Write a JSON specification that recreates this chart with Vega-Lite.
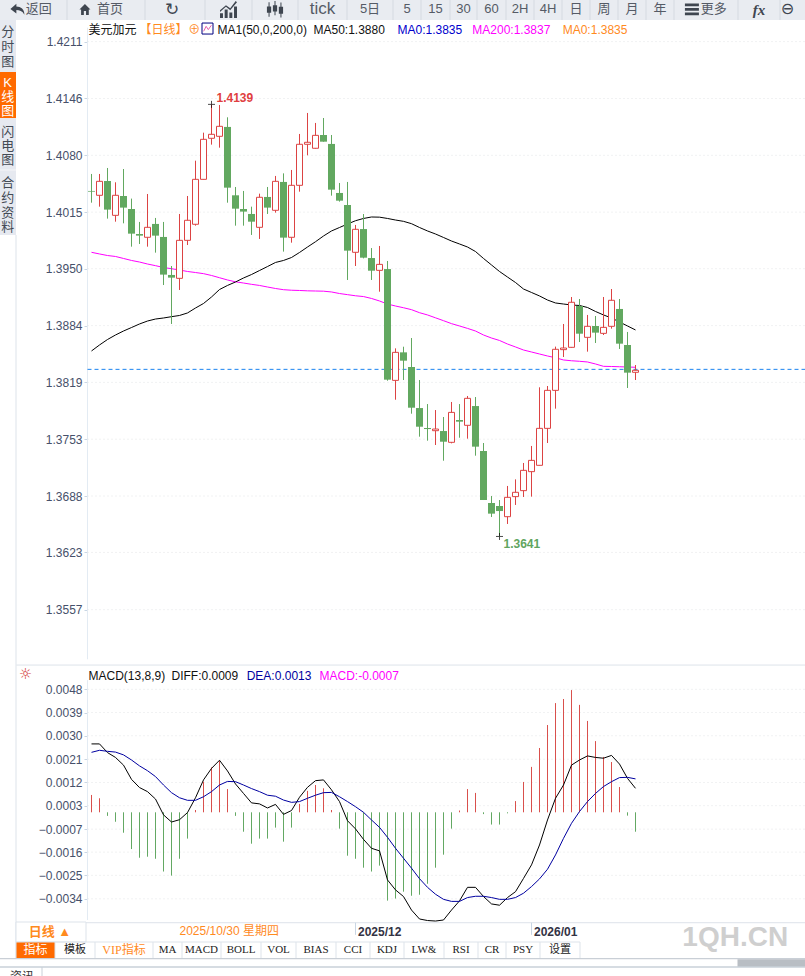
{
"$schema":"https://vega.github.io/schema/vega-lite/v6.json",
"width":805,"height":976,"padding":0,"autosize":{"type":"none"},"background":"white",
"config":{"view":{"stroke":null},"text":{"font":"Liberation Sans, Noto Sans CJK SC"}},
"datasets":{
"bars":[
{"bar":0,"date":"2025-10-15","open":1.40392,"high":1.40588,"low":1.40257,"close":1.40384,"ma50":1.38548,"ma200":1.39685,"diff":0.00268,"dea":0.00235,"macd":0.00068},
{"bar":1,"date":"2025-10-16","open":1.40342,"high":1.40588,"low":1.40211,"close":1.40503,"ma50":1.38617,"ma200":1.39666,"diff":0.00268,"dea":0.00243,"macd":0.00055},
{"bar":2,"date":"2025-10-17","open":1.40507,"high":1.40657,"low":1.40073,"close":1.40177,"ma50":1.3868,"ma200":1.39648,"diff":0.00234,"dea":0.00239,"macd":-0.00014},
{"bar":3,"date":"2025-10-20","open":1.40111,"high":1.40492,"low":1.40038,"close":1.40342,"ma50":1.38732,"ma200":1.39637,"diff":0.00215,"dea":0.00236,"macd":-0.00037},
{"bar":4,"date":"2025-10-21","open":1.40334,"high":1.40645,"low":1.40019,"close":1.402,"ma50":1.38778,"ma200":1.39614,"diff":0.00185,"dea":0.00225,"macd":-0.0008},
{"bar":5,"date":"2025-10-22","open":1.40184,"high":1.40304,"low":1.3975,"close":1.399,"ma50":1.38818,"ma200":1.39591,"diff":0.00129,"dea":0.00205,"macd":-0.00144},
{"bar":6,"date":"2025-10-23","open":1.39896,"high":1.40035,"low":1.39781,"close":1.39877,"ma50":1.38859,"ma200":1.39573,"diff":0.00097,"dea":0.00182,"macd":-0.00178},
{"bar":7,"date":"2025-10-24","open":1.39858,"high":1.40357,"low":1.3975,"close":1.39973,"ma50":1.38893,"ma200":1.3955,"diff":0.00081,"dea":0.00163,"macd":-0.00174},
{"bar":8,"date":"2025-10-27","open":1.40012,"high":1.40081,"low":1.39681,"close":1.39877,"ma50":1.38916,"ma200":1.39531,"diff":0.00052,"dea":0.0014,"macd":-0.00182},
{"bar":9,"date":"2025-10-28","open":1.39862,"high":1.40035,"low":1.39308,"close":1.39428,"ma50":1.38928,"ma200":1.3951,"diff":-0.0001,"dea":0.00107,"macd":-0.00232},
{"bar":10,"date":"2025-10-29","open":1.39424,"high":1.39527,"low":1.38859,"close":1.39393,"ma50":1.38943,"ma200":1.39496,"diff":-0.00038,"dea":0.00077,"macd":-0.00248},
{"bar":11,"date":"2025-10-30","open":1.39385,"high":1.40127,"low":1.39251,"close":1.39823,"ma50":1.38957,"ma200":1.39481,"diff":-0.00029,"dea":0.00057,"macd":-0.00182},
{"bar":12,"date":"2025-10-31","open":1.39823,"high":1.40334,"low":1.39769,"close":1.40054,"ma50":1.38986,"ma200":1.39464,"diff":-0.00001,"dea":0.00047,"macd":-0.00103},
{"bar":13,"date":"2025-11-03","open":1.40008,"high":1.40741,"low":1.39992,"close":1.40526,"ma50":1.39043,"ma200":1.39452,"diff":0.00057,"dea":0.00047,"macd":0.00009},
{"bar":14,"date":"2025-11-04","open":1.40526,"high":1.41064,"low":1.40526,"close":1.40987,"ma50":1.39095,"ma200":1.39439,"diff":0.00127,"dea":0.00061,"macd":0.0012},
{"bar":15,"date":"2025-11-05","open":1.40999,"high":1.4139,"low":1.40926,"close":1.41045,"ma50":1.3917,"ma200":1.39418,"diff":0.00172,"dea":0.00081,"macd":0.00176},
{"bar":16,"date":"2025-11-06","open":1.41022,"high":1.41383,"low":1.40891,"close":1.41137,"ma50":1.39256,"ma200":1.39392,"diff":0.00204,"dea":0.00107,"macd":0.00201},
{"bar":17,"date":"2025-11-07","open":1.4113,"high":1.41241,"low":1.40257,"close":1.4043,"ma50":1.39303,"ma200":1.39366,"diff":0.00162,"dea":0.00121,"macd":0.00091},
{"bar":18,"date":"2025-11-10","open":1.40342,"high":1.40438,"low":1.39992,"close":1.40188,"ma50":1.39343,"ma200":1.39345,"diff":0.00111,"dea":0.0012,"macd":-0.00014},
{"bar":19,"date":"2025-11-11","open":1.40184,"high":1.40392,"low":1.39992,"close":1.40154,"ma50":1.39389,"ma200":1.39331,"diff":0.00074,"dea":0.00107,"macd":-0.00076},
{"bar":20,"date":"2025-11-12","open":1.40127,"high":1.40211,"low":1.39885,"close":1.40038,"ma50":1.39429,"ma200":1.39316,"diff":0.00037,"dea":0.00093,"macd":-0.00123},
{"bar":21,"date":"2025-11-13","open":1.39973,"high":1.40361,"low":1.39839,"close":1.40319,"ma50":1.39475,"ma200":1.39303,"diff":0.00033,"dea":0.00081,"macd":-0.00103},
{"bar":22,"date":"2025-11-14","open":1.40323,"high":1.40438,"low":1.40127,"close":1.402,"ma50":1.39521,"ma200":1.39285,"diff":0.00017,"dea":0.00067,"macd":-0.00103},
{"bar":23,"date":"2025-11-17","open":1.40169,"high":1.40565,"low":1.40142,"close":1.40503,"ma50":1.39568,"ma200":1.39268,"diff":0.00031,"dea":0.00063,"macd":-0.0006},
{"bar":24,"date":"2025-11-18","open":1.40496,"high":1.40595,"low":1.39693,"close":1.39854,"ma50":1.39591,"ma200":1.39254,"diff":-0.00008,"dea":0.00048,"macd":-0.00115},
{"bar":25,"date":"2025-11-19","open":1.39858,"high":1.40634,"low":1.39796,"close":1.40457,"ma50":1.39625,"ma200":1.39248,"diff":0.00007,"dea":0.00039,"macd":-0.0006},
{"bar":26,"date":"2025-11-20","open":1.40457,"high":1.41049,"low":1.40384,"close":1.4093,"ma50":1.39683,"ma200":1.39245,"diff":0.00059,"dea":0.00042,"macd":0.00033},
{"bar":27,"date":"2025-11-21","open":1.4093,"high":1.41291,"low":1.40803,"close":1.40953,"ma50":1.39746,"ma200":1.39241,"diff":0.00098,"dea":0.00055,"macd":0.00084},
{"bar":28,"date":"2025-11-24","open":1.40884,"high":1.41176,"low":1.4088,"close":1.41033,"ma50":1.39807,"ma200":1.39239,"diff":0.00124,"dea":0.00067,"macd":0.00107},
{"bar":29,"date":"2025-11-25","open":1.41037,"high":1.41233,"low":1.4096,"close":1.4096,"ma50":1.39873,"ma200":1.39237,"diff":0.00127,"dea":0.00077,"macd":0.00094},
{"bar":30,"date":"2025-11-26","open":1.40934,"high":1.41037,"low":1.40338,"close":1.40407,"ma50":1.39931,"ma200":1.39228,"diff":0.00088,"dea":0.00078,"macd":0.00009},
{"bar":31,"date":"2025-11-27","open":1.40369,"high":1.40484,"low":1.40269,"close":1.4028,"ma50":1.39971,"ma200":1.3921,"diff":0.00042,"dea":0.00061,"macd":-0.00064},
{"bar":32,"date":"2025-11-28","open":1.4023,"high":1.40496,"low":1.39366,"close":1.39704,"ma50":1.40011,"ma200":1.39197,"diff":-0.00033,"dea":0.00042,"macd":-0.0017},
{"bar":33,"date":"2025-12-01","open":1.39685,"high":1.4,"low":1.39527,"close":1.3995,"ma50":1.40049,"ma200":1.39184,"diff":-0.00065,"dea":0.00022,"macd":-0.00182},
{"bar":34,"date":"2025-12-02","open":1.39953,"high":1.40126,"low":1.39615,"close":1.39623,"ma50":1.40075,"ma200":1.39175,"diff":-0.00106,"dea":0,"macd":-0.00217},
{"bar":35,"date":"2025-12-03","open":1.39619,"high":1.39734,"low":1.39366,"close":1.39473,"ma50":1.40092,"ma200":1.39153,"diff":-0.00141,"dea":-0.0003,"macd":-0.00232},
{"bar":36,"date":"2025-12-04","open":1.39477,"high":1.39758,"low":1.39231,"close":1.39546,"ma50":1.4009,"ma200":1.39124,"diff":-0.00151,"dea":-0.00059,"macd":-0.00209},
{"bar":37,"date":"2025-12-05","open":1.39492,"high":1.39585,"low":1.38205,"close":1.38217,"ma50":1.40075,"ma200":1.39089,"diff":-0.00265,"dea":-0.00098,"macd":-0.00346},
{"bar":38,"date":"2025-12-08","open":1.38209,"high":1.38578,"low":1.37986,"close":1.38532,"ma50":1.40057,"ma200":1.39066,"diff":-0.00304,"dea":-0.00141,"macd":-0.00338},
{"bar":39,"date":"2025-12-09","open":1.38532,"high":1.38597,"low":1.38213,"close":1.38436,"ma50":1.40042,"ma200":1.39046,"diff":-0.0033,"dea":-0.0018,"macd":-0.00311},
{"bar":40,"date":"2025-12-10","open":1.38363,"high":1.38697,"low":1.37825,"close":1.37894,"ma50":1.40015,"ma200":1.39024,"diff":-0.00383,"dea":-0.00219,"macd":-0.00327},
{"bar":41,"date":"2025-12-11","open":1.3789,"high":1.38213,"low":1.3756,"close":1.37675,"ma50":1.39971,"ma200":1.38989,"diff":-0.00418,"dea":-0.0026,"macd":-0.00323},
{"bar":42,"date":"2025-12-12","open":1.3766,"high":1.37936,"low":1.37514,"close":1.37648,"ma50":1.39931,"ma200":1.38963,"diff":-0.00424,"dea":-0.00294,"macd":-0.0028},
{"bar":43,"date":"2025-12-15","open":1.37629,"high":1.37867,"low":1.37464,"close":1.37648,"ma50":1.39896,"ma200":1.3893,"diff":-0.00426,"dea":-0.00321,"macd":-0.00217},
{"bar":44,"date":"2025-12-16","open":1.37625,"high":1.37787,"low":1.37283,"close":1.37502,"ma50":1.39856,"ma200":1.38897,"diff":-0.00422,"dea":-0.00341,"macd":-0.00166},
{"bar":45,"date":"2025-12-17","open":1.37495,"high":1.3796,"low":1.37483,"close":1.3784,"ma50":1.39815,"ma200":1.38863,"diff":-0.00383,"dea":-0.00349,"macd":-0.00064},
{"bar":46,"date":"2025-12-18","open":1.37752,"high":1.37936,"low":1.37548,"close":1.37733,"ma50":1.39781,"ma200":1.38836,"diff":-0.00347,"dea":-0.00349,"macd":0.00007},
{"bar":47,"date":"2025-12-19","open":1.37691,"high":1.38029,"low":1.37537,"close":1.38002,"ma50":1.39746,"ma200":1.38808,"diff":-0.00294,"dea":-0.00334,"macd":0.00091},
{"bar":48,"date":"2025-12-22","open":1.37913,"high":1.38017,"low":1.37341,"close":1.37445,"ma50":1.39694,"ma200":1.38778,"diff":-0.00294,"dea":-0.00329,"macd":0.00076},
{"bar":49,"date":"2025-12-23","open":1.37395,"high":1.37487,"low":1.3683,"close":1.3683,"ma50":1.39614,"ma200":1.38732,"diff":-0.0033,"dea":-0.00329,"macd":-0.00007},
{"bar":50,"date":"2025-12-24","open":1.36796,"high":1.36876,"low":1.36634,"close":1.36673,"ma50":1.39539,"ma200":1.38697,"diff":-0.00359,"dea":-0.00334,"macd":-0.00048},
{"bar":51,"date":"2025-12-26","open":1.36761,"high":1.3683,"low":1.3641,"close":1.36703,"ma50":1.39464,"ma200":1.38669,"diff":-0.00364,"dea":-0.00341,"macd":-0.00048},
{"bar":52,"date":"2025-12-29","open":1.36638,"high":1.36992,"low":1.36554,"close":1.36861,"ma50":1.394,"ma200":1.38628,"diff":-0.00334,"dea":-0.00341,"macd":-0.00004},
{"bar":53,"date":"2025-12-30","open":1.36869,"high":1.37068,"low":1.36773,"close":1.36919,"ma50":1.39337,"ma200":1.38594,"diff":-0.00311,"dea":-0.00334,"macd":0.00044},
{"bar":54,"date":"2025-12-31","open":1.36938,"high":1.37257,"low":1.36865,"close":1.37172,"ma50":1.39262,"ma200":1.38559,"diff":-0.00259,"dea":-0.00317,"macd":0.00119},
{"bar":55,"date":"2026-01-01","open":1.37157,"high":1.37453,"low":1.36869,"close":1.37287,"ma50":1.39222,"ma200":1.38536,"diff":-0.00206,"dea":-0.00291,"macd":0.00178},
{"bar":56,"date":"2026-01-02","open":1.3723,"high":1.38129,"low":1.3723,"close":1.37656,"ma50":1.39182,"ma200":1.38513,"diff":-0.00128,"dea":-0.00261,"macd":0.00252},
{"bar":57,"date":"2026-01-05","open":1.37656,"high":1.38144,"low":1.37487,"close":1.38094,"ma50":1.39135,"ma200":1.3849,"diff":-0.0003,"dea":-0.00223,"macd":0.00342},
{"bar":58,"date":"2026-01-06","open":1.38094,"high":1.38598,"low":1.37883,"close":1.38567,"ma50":1.39101,"ma200":1.3847,"diff":0.00055,"dea":-0.00167,"macd":0.00428},
{"bar":59,"date":"2026-01-07","open":1.38563,"high":1.38859,"low":1.38478,"close":1.38582,"ma50":1.39089,"ma200":1.38444,"diff":0.00107,"dea":-0.00102,"macd":0.00444},
{"bar":60,"date":"2026-01-08","open":1.3859,"high":1.3917,"low":1.38586,"close":1.39109,"ma50":1.39078,"ma200":1.38435,"diff":0.00185,"dea":-0.00043,"macd":0.00479},
{"bar":61,"date":"2026-01-09","open":1.39066,"high":1.39147,"low":1.38651,"close":1.38747,"ma50":1.39072,"ma200":1.38429,"diff":0.00205,"dea":0.00003,"macd":0.00421},
{"bar":62,"date":"2026-01-12","open":1.38705,"high":1.38963,"low":1.3854,"close":1.38832,"ma50":1.39049,"ma200":1.38421,"diff":0.00221,"dea":0.00042,"macd":0.00358},
{"bar":63,"date":"2026-01-13","open":1.38836,"high":1.38951,"low":1.3864,"close":1.38759,"ma50":1.39003,"ma200":1.38398,"diff":0.00215,"dea":0.00074,"macd":0.00279},
{"bar":64,"date":"2026-01-14","open":1.38751,"high":1.3917,"low":1.38732,"close":1.3882,"ma50":1.38963,"ma200":1.38371,"diff":0.00212,"dea":0.00101,"macd":0.00217},
{"bar":65,"date":"2026-01-15","open":1.38832,"high":1.39262,"low":1.38805,"close":1.39132,"ma50":1.38928,"ma200":1.38369,"diff":0.00223,"dea":0.0012,"macd":0.00197},
{"bar":66,"date":"2026-01-16","open":1.39032,"high":1.39147,"low":1.38571,"close":1.38632,"ma50":1.38882,"ma200":1.38366,"diff":0.00189,"dea":0.00136,"macd":0.00099},
{"bar":67,"date":"2026-01-19","open":1.38617,"high":1.38767,"low":1.38121,"close":1.38298,"ma50":1.38836,"ma200":1.38363,"diff":0.00133,"dea":0.00137,"macd":-0.00013},
{"bar":68,"date":"2026-01-20","open":1.38302,"high":1.38386,"low":1.38213,"close":1.38325,"ma50":1.3879,"ma200":1.3836,"diff":0.00094,"dea":0.00131,"macd":-0.00076}
],
"priceTicks":[{"tick":1.42113},{"tick":1.41458},{"tick":1.40803},{"tick":1.40148},{"tick":1.39496},{"tick":1.3884},{"tick":1.38186},{"tick":1.37531},{"tick":1.36876},{"tick":1.36226},{"tick":1.35566}],
"macdTicks":[{"tick":0.00482},{"tick":0.00391},{"tick":0.003},{"tick":0.00208},{"tick":0.00117},{"tick":0.00026},{"tick":-0.00066},{"tick":-0.00156},{"tick":-0.00247},{"tick":-0.00339}],
"priceNotes":[
{"text":"美元加元","bar":-0.375,"value":1.42247,"tone":"plain"},
{"text":"【日线】","bar":6,"value":1.42247,"tone":"orange"},
{"text":"⊕","bar":12.1,"value":1.42247,"tone":"orange"},
{"text":"MA1(50,0,200,0)","bar":15.75,"value":1.42247,"tone":"plain"},
{"text":"MA50:1.3880","bar":27.75,"value":1.42247,"tone":"plain"},
{"text":"MA0:1.3835","bar":38.25,"value":1.42247,"tone":"blue"},
{"text":"MA200:1.3837","bar":47.6,"value":1.42247,"tone":"magenta"},
{"text":"MA0:1.3835","bar":58.9,"value":1.42247,"tone":"orange"}
],
"priceExtremes":[
{"text":"1.4139","bar":15,"value":1.4139,"tone":"red"},
{"text":"1.3641","bar":51,"value":1.3641,"tone":"green"}
],
"macdNotes":[
{"text":"MACD(13,8,9)","bar":-0.375,"value":0.00534,"tone":"plain"},
{"text":"DIFF:0.0009","bar":10,"value":0.00534,"tone":"plain"},
{"text":"DEA:0.0013","bar":19.4,"value":0.00534,"tone":"navy"},
{"text":"MACD:-0.0007","bar":28.5,"value":0.00534,"tone":"magenta"},
{"text":"2025/10/30 星期四","bar":11,"value":-0.00465,"tone":"orange"}
],
"toolEdges":[{"edge":1},{"edge":2},{"edge":3},{"edge":4},{"edge":5},{"edge":6},{"edge":7},{"edge":8},{"edge":9},{"edge":10},{"edge":11},{"edge":12},{"edge":13},{"edge":14},{"edge":15},{"edge":16},{"edge":17},{"edge":18},{"edge":19}],
"toolText":[{"label":"返回","cell":0.58},{"label":"首页","cell":1.55},{"label":"5日","cell":6.5},{"label":"5","cell":7.5},{"label":"15","cell":8.5},{"label":"30","cell":9.5},{"label":"60","cell":10.5},{"label":"2H","cell":11.5},{"label":"4H","cell":12.5},{"label":"日","cell":13.5},{"label":"周","cell":14.5},{"label":"月","cell":15.5},{"label":"年","cell":16.5},{"label":"更多","cell":17.62}],
"sideChars":[{"char":"分","row":0.24},{"char":"时","row":0.52},{"char":"图","row":0.8},{"char":"闪","row":2.27},{"char":"电","row":2.54},{"char":"图","row":2.81},{"char":"合","row":3.2},{"char":"约","row":3.43},{"char":"资","row":3.66},{"char":"料","row":3.88}],
"sideActive":[{"char":"K","row":1.24},{"char":"线","row":1.54},{"char":"图","row":1.85}],
"tabEdges":[{"edge":0},{"edge":1},{"edge":2},{"edge":3},{"edge":4},{"edge":5},{"edge":6},{"edge":7},{"edge":8},{"edge":9},{"edge":10},{"edge":11},{"edge":12},{"edge":13},{"edge":14},{"edge":15}],
"tabs":[{"label":"模板","cell":1.5},{"label":"MA","cell":3.5},{"label":"MACD","cell":4.5},{"label":"BOLL","cell":5.5},{"label":"VOL","cell":6.5},{"label":"BIAS","cell":7.5},{"label":"CCI","cell":8.5},{"label":"KDJ","cell":9.5},{"label":"LW&","cell":10.5},{"label":"RSI","cell":11.5},{"label":"CR","cell":12.5},{"label":"PSY","cell":13.5},{"label":"设置","cell":14.5}]
},
"layer":[
{"data":{"name":"priceTicks"},"mark":{"type":"rule","color":"#E2E4E6","strokeDash":[1,3],"strokeWidth":1},
"encoding":{"x":{"datum":-0.5,"axis":null,"scale":{"domain":[-0.5,89.25],"range":[87.5,805.5],"padding":0,"nice":false,"zero":false}},"x2":{"datum":89.25},
"y":{"field":"tick","type":"quantitative","title":null,
"scale":{"domain":[1.35,1.4228],"range":[658.8,27.15],"nice":false,"zero":false},
"axis":{"orient":"left","offset":-87,"values":[1.42113,1.41458,1.40803,1.40148,1.39496,1.3884,1.38186,1.37531,1.36876,1.36226,1.35566],"format":".4f","grid":false,"domainColor":"#E3EBF3","tickColor":"#C9D6E4","tickSize":3,"labelPadding":2,"labelFont":"Liberation Sans","labelFontSize":12,"labelColor":"#46506A","title":null}}}},
{"data":{"name":"macdTicks"},"mark":{"type":"rule","color":"#E2E4E6","strokeDash":[1,3],"strokeWidth":1},
"encoding":{"x":{"datum":-0.5,"axis":null,"scale":{"domain":[-0.5,89.25],"range":[87.5,805.5],"padding":0,"nice":false,"zero":false}},"x2":{"datum":89.25},
"y":{"field":"tick","type":"quantitative","title":null,
"scale":{"domain":[-0.0042,0.0052],"range":[919.5,679.6],"nice":false,"zero":false},
"axis":{"orient":"left","offset":-87,"values":[0.00482,0.00391,0.003,0.00208,0.00117,0.00026,-0.00066,-0.00156,-0.00247,-0.00339],"format":".4f","grid":false,"domainColor":"#E3EBF3","tickColor":"#C9D6E4","tickSize":3,"labelPadding":2,"labelFont":"Liberation Sans","labelFontSize":12,"labelColor":"#46506A","title":null}}}},
{"data":{"values":[{"edge":0.00577},{"edge":-0.004326}]},"mark":{"type":"rule","color":"#DDE3EA","strokeWidth":1},"encoding":{"x":{"datum":-9.4,"axis":null,"scale":{"domain":[-0.5,89.25],"range":[87.5,805.5],"padding":0,"nice":false,"zero":false}},"x2":{"datum":89.25},"y":{"field":"edge","type":"quantitative","axis":null,"scale":{"domain":[-0.0042,0.0052],"range":[919.5,679.6],"nice":false,"zero":false}}}},
{"data":{"values":[{"last":1.38336}]},"mark":{"type":"rule","color":"#1A84F0","strokeDash":[4,3],"strokeWidth":1},"encoding":{"x":{"datum":-0.5,"axis":null,"scale":{"domain":[-0.5,89.25],"range":[87.5,805.5],"padding":0,"nice":false,"zero":false}},"x2":{"datum":89.25},"y":{"field":"last","type":"quantitative","axis":null,"scale":{"domain":[1.35,1.4228],"range":[658.8,27.15],"nice":false,"zero":false}}}},
{"data":{"values":[{"bar":33},{"bar":55}]},"mark":{"type":"rule","color":"#C9D6E4","strokeWidth":1},
"encoding":{"x":{"field":"bar","type":"quantitative","title":null,"scale":{"domain":[-0.5,89.25],"range":[87.5,805.5],"padding":0,"nice":false,"zero":false},
"axis":{"orient":"bottom","offset":-53,"values":[33,55],"labelExpr":"datum.value==33?'2025/12':'2026/01'","grid":false,"domain":false,"ticks":false,"labelAlign":"left","labelBaseline":"middle","labelPadding":8,"labelOffset":2,"labelFont":"Liberation Sans","labelFontSize":12,"labelFontWeight":"bold","labelColor":"#333344","title":null}},
"y":{"datum":-0.004326,"axis":null,"scale":{"domain":[-0.0042,0.0052],"range":[919.5,679.6],"nice":false,"zero":false}},"y2":{"datum":-0.0048}}},
{"data":{"name":"bars"},
"encoding":{"x":{"field":"bar","type":"quantitative","axis":null,"scale":{"domain":[-0.5,89.25],"range":[87.5,805.5],"padding":0,"nice":false,"zero":false}}},
"layer":[
{"mark":{"type":"line","color":"#FF00FF","strokeWidth":1,"interpolate":"linear"},"encoding":{"y":{"field":"ma200","type":"quantitative","axis":null,"scale":{"domain":[1.35,1.4228],"range":[658.8,27.15],"nice":false,"zero":false}}}},
{"mark":{"type":"line","color":"#000000","strokeWidth":1,"interpolate":"linear"},"encoding":{"y":{"field":"ma50","type":"quantitative","axis":null}}},
{"transform":[{"filter":"datum.close<datum.open"}],"mark":{"type":"rule","color":"#62A860","strokeWidth":1},"encoding":{"y":{"field":"low","type":"quantitative","axis":null},"y2":{"field":"high"}}},
{"transform":[{"filter":"datum.close<datum.open"}],"mark":{"type":"bar","size":7,"fill":"#62A860"},"encoding":{"y":{"field":"open","type":"quantitative","axis":null},"y2":{"field":"close"}}},
{"transform":[{"filter":"datum.close>=datum.open"}],"mark":{"type":"rule","color":"#DC4343","strokeWidth":1},"encoding":{"y":{"field":"low","type":"quantitative","axis":null},"y2":{"field":"high"}}},
{"transform":[{"filter":"datum.close>=datum.open"}],"mark":{"type":"bar","size":6,"fill":"#FFFFFF","stroke":"#DC4343","strokeWidth":1},"encoding":{"y":{"field":"open","type":"quantitative","axis":null},"y2":{"field":"close"}}},
{"data":{"name":"priceExtremes"},"mark":{"type":"point","shape":"M-1,0H1M0,-1V1","size":49,"color":"#000000","strokeWidth":1,"filled":false},"encoding":{"y":{"field":"value","type":"quantitative","axis":null}}},
{"data":{"values":[{"bar":14.5,"value":1.42264}]},"mark":{"type":"point","shape":"M-1,-1H1V1H-1Z","size":121,"fill":"#FFFFFF","filled":true,"stroke":"#000080","opacity":1,"strokeWidth":1},"encoding":{"x":{"field":"bar","type":"quantitative","axis":null},"y":{"field":"value","type":"quantitative","axis":null}}},
{"data":{"values":[{"bar":14.5,"value":1.42264}]},"mark":{"type":"point","shape":"M-0.7,0.5L-0.25,-0.4L0.15,0.2L0.7,-0.6","size":121,"color":"#E0208A","filled":false,"strokeWidth":1},"encoding":{"x":{"field":"bar","type":"quantitative","axis":null},"y":{"field":"value","type":"quantitative","axis":null}}},
{"data":{"name":"priceNotes"},"mark":{"type":"text","align":"left","baseline":"middle","fontSize":12},
"encoding":{"x":{"field":"bar","type":"quantitative","axis":null},"y":{"field":"value","type":"quantitative","axis":null},"text":{"field":"text"},
"color":{"field":"tone","type":"nominal","legend":null,"scale":{"domain":["plain","orange","blue","magenta","red","green"],"range":["#111111","#FF8A1E","#0000CC","#FF00FF","#E04040","#5FA55F"]}}}},
{"data":{"name":"priceExtremes"},"mark":{"type":"text","align":"left","baseline":"middle","fontSize":12,"fontWeight":"bold","dx":5,"dy":-6},
"transform":[{"filter":"datum.tone=='red'"}],
"encoding":{"y":{"field":"value","type":"quantitative","axis":null},"text":{"field":"text"},"color":{"field":"tone","type":"nominal","legend":null,"scale":{"domain":["plain","orange","blue","magenta","red","green"],"range":["#111111","#FF8A1E","#0000CC","#FF00FF","#E04040","#5FA55F"]}}}},
{"data":{"name":"priceExtremes"},"mark":{"type":"text","align":"left","baseline":"middle","fontSize":12,"fontWeight":"bold","dx":4,"dy":8},
"transform":[{"filter":"datum.tone=='green'"}],
"encoding":{"y":{"field":"value","type":"quantitative","axis":null},"text":{"field":"text"},"color":{"field":"tone","type":"nominal","legend":null,"scale":{"domain":["plain","orange","blue","magenta","red","green"],"range":["#111111","#FF8A1E","#0000CC","#FF00FF","#E04040","#5FA55F"]}}}}
]},
{"data":{"name":"bars"},
"encoding":{"x":{"field":"bar","type":"quantitative","axis":null,"scale":{"domain":[-0.5,89.25],"range":[87.5,805.5],"padding":0,"nice":false,"zero":false}}},
"layer":[
{"transform":[{"filter":"datum.macd>=0"}],"mark":{"type":"rule","color":"#D9504C","strokeWidth":1},"encoding":{"y":{"field":"macd","type":"quantitative","axis":null,"scale":{"domain":[-0.0042,0.0052],"range":[919.5,679.6],"nice":false,"zero":false}},"y2":{"datum":0}}},
{"transform":[{"filter":"datum.macd<0"}],"mark":{"type":"rule","color":"#63A863","strokeWidth":1},"encoding":{"y":{"field":"macd","type":"quantitative","axis":null},"y2":{"datum":0}}},
{"mark":{"type":"line","color":"#000000","strokeWidth":1},"encoding":{"y":{"field":"diff","type":"quantitative","axis":null}}},
{"mark":{"type":"line","color":"#0000A0","strokeWidth":1},"encoding":{"y":{"field":"dea","type":"quantitative","axis":null}}},
{"data":{"values":[{"label":"☼","bar":-8.25,"value":0.00541}]},"mark":{"type":"text","font":"DejaVu Sans","fontSize":15,"color":"#D03030","baseline":"middle"},"encoding":{"x":{"field":"bar","type":"quantitative","axis":null},"y":{"field":"value","type":"quantitative","axis":null},"text":{"field":"label"}}},
{"data":{"name":"macdNotes"},"mark":{"type":"text","align":"left","baseline":"middle","fontSize":12},
"encoding":{"x":{"field":"bar","type":"quantitative","axis":null},"y":{"field":"value","type":"quantitative","axis":null},"text":{"field":"text"},
"color":{"field":"tone","type":"nominal","legend":null,"scale":{"domain":["plain","orange","navy","magenta"],"range":["#111111","#FF8A1E","#0000A0","#FF00FF"]}}}}
]},
{"layer":[
{"data":{"values":[{}]},"mark":{"type":"rect","color":"#E9ECF1"},"encoding":{"x":{"datum":0,"axis":null,"scale":{"domain":[0,1,2,3,4,5,6,7,8,9,10,11,12,13,14,15,16,17,18,19,20],"range":[0,67,145,205,252,298,347,393,421,450,477,506,534,562,590,618,646,674,738,780,805],"nice":false,"zero":false}},"x2":{"datum":20},"y":{"datum":0,"axis":null,"scale":{"domain":[0,1],"range":[0,20],"nice":false,"zero":false}},"y2":{"datum":1}}},
{"data":{"name":"toolEdges"},"mark":{"type":"rule","color":"#D5DAE1","strokeWidth":1},"encoding":{"x":{"field":"edge","type":"quantitative","axis":null},"y":{"datum":0,"axis":null},"y2":{"datum":1}}},
{"data":{"name":"toolText"},"mark":{"type":"text","fontSize":13,"color":"#555B66","baseline":"middle"},"encoding":{"x":{"field":"cell","type":"quantitative","axis":null},"y":{"datum":0.45,"axis":null},"text":{"field":"label"}}},
{"data":{"values":[{"icon":"back","cell":0.26}]},"mark":{"type":"point","shape":"M-1,-0.05L-0.15,-0.8L-0.15,-0.4C0.5,-0.4 1,0 1,0.75C0.7,0.25 0.3,0.1 -0.15,0.1L-0.15,0.6Z","size":196,"filled":true,"color":"#3F4650","opacity":1},"encoding":{"x":{"field":"cell","type":"quantitative","axis":null},"y":{"datum":0.47,"axis":null}}},
{"data":{"values":[{"icon":"home","cell":1.23}]},"mark":{"type":"point","shape":"M0,-1L1,0L0.7,0L0.7,1L0.2,1L0.2,0.3L-0.2,0.3L-0.2,1L-0.7,1L-0.7,0L-1,0Z","size":121,"filled":true,"color":"#3F4650","opacity":1},"encoding":{"x":{"field":"cell","type":"quantitative","axis":null},"y":{"datum":0.47,"axis":null}}},
{"data":{"values":[{"icon":"refresh","cell":2.45}]},"mark":{"type":"text","font":"DejaVu Sans","fontSize":17,"color":"#3F4650","baseline":"middle"},"encoding":{"x":{"field":"cell","type":"quantitative","axis":null},"y":{"datum":0.5,"axis":null},"text":{"value":"↻"}}},
{"data":{"values":[{"icon":"chart","cell":3.5}]},"mark":{"type":"point","shape":"M-1,1V0.45H-0.65V1ZM-0.45,1V0H-0.1V1ZM0.1,1V0.35H0.45V1ZM0.65,1V-0.35H1V1ZM-1,0.1L-0.3,-0.5L0.2,-0.15L0.85,-1L1,-0.85L0.2,0.1L-0.3,-0.3L-1,0.3Z","size":289,"filled":true,"color":"#3F4650","opacity":1},"encoding":{"x":{"field":"cell","type":"quantitative","axis":null},"y":{"datum":0.47,"axis":null}}},
{"data":{"values":[{"icon":"candles","cell":4.5}]},"mark":{"type":"point","shape":"M-0.95,-0.35H-0.45V0.4H-0.95ZM-0.76,-0.85H-0.64V0.85H-0.76ZM-0.25,-0.5H0.25V0.25H-0.25ZM-0.06,-1H0.06V0.7H-0.06ZM0.45,-0.3H0.95V0.5H0.45ZM0.64,-0.8H0.76V0.95H0.64Z","size":289,"filled":true,"color":"#3F4650","opacity":1},"encoding":{"x":{"field":"cell","type":"quantitative","axis":null},"y":{"datum":0.47,"axis":null}}},
{"data":{"values":[{"icon":"menu","cell":17.28}]},"mark":{"type":"point","shape":"M-1,-0.85H1V-0.45H-1ZM-1,-0.2H1V0.2H-1ZM-1,0.45H1V0.85H-1Z","size":196,"filled":true,"color":"#3F4650","opacity":1},"encoding":{"x":{"field":"cell","type":"quantitative","axis":null},"y":{"datum":0.47,"axis":null}}},
{"data":{"values":[{"icon":"search","cell":19.3}]},"mark":{"type":"text","font":"DejaVu Sans","fontSize":16,"color":"#3F4650","baseline":"middle"},"encoding":{"x":{"field":"cell","type":"quantitative","axis":null},"y":{"datum":0.47,"axis":null},"text":{"value":"⊖"}}},
{"data":{"values":[{"label":"tick","cell":5.5}]},"mark":{"type":"text","fontSize":17,"color":"#555B66","baseline":"middle"},"encoding":{"x":{"field":"cell","type":"quantitative","axis":null},"y":{"datum":0.45,"axis":null},"text":{"field":"label"}}},
{"data":{"values":[{"label":"fx","cell":18.5}]},"mark":{"type":"text","font":"Liberation Serif","fontStyle":"italic","fontWeight":"bold","fontSize":15,"color":"#3F4650","baseline":"middle"},"encoding":{"x":{"field":"cell","type":"quantitative","axis":null},"y":{"datum":0.5,"axis":null},"text":{"field":"label"}}}
]},
{"layer":[
{"data":{"values":[{}]},"mark":{"type":"rect","color":"#E6E9F0"},"encoding":{"x":{"datum":0,"axis":null,"scale":{"domain":[0,1],"range":[0,16],"nice":false,"zero":false}},"x2":{"datum":1},"y":{"datum":0,"axis":null,"scale":{"domain":[0,1,2,3,4,5],"range":[20,72,118,170,235,958],"nice":false,"zero":false}},"y2":{"datum":4}}},
{"data":{"values":[{}]},"mark":{"type":"rect","color":"#FF6A00"},"encoding":{"x":{"datum":0,"axis":null},"x2":{"datum":1},"y":{"datum":1,"axis":null},"y2":{"datum":2}}},
{"data":{"values":[{}]},"mark":{"type":"rule","color":"#F5F6F8","strokeWidth":1},"encoding":{"x":{"datum":0,"axis":null},"x2":{"datum":1},"y":{"datum":3,"axis":null}}},
{"data":{"values":[{}]},"mark":{"type":"rule","color":"#DDE3EA","strokeWidth":1},"encoding":{"x":{"datum":1,"axis":null},"y":{"datum":4,"axis":null},"y2":{"datum":5}}},
{"data":{"name":"sideChars"},"mark":{"type":"text","fontSize":13,"color":"#444B55","baseline":"middle"},"encoding":{"x":{"datum":0.48,"axis":null},"y":{"field":"row","type":"quantitative","axis":null},"text":{"field":"char"}}},
{"data":{"name":"sideActive"},"mark":{"type":"text","fontSize":13,"color":"#FFFFFF","baseline":"middle"},"encoding":{"x":{"datum":0.48,"axis":null},"y":{"field":"row","type":"quantitative","axis":null},"text":{"field":"char"}}}
]},
{"layer":[
{"data":{"values":[{}]},"mark":{"type":"rect","color":"#FFFFFF","stroke":"#DDE3EA","strokeWidth":1},"encoding":{"x":{"datum":0,"axis":null,"scale":{"domain":[-1,0,1,2,3,4,5,6,7,8,9,10,11,12,13,14,15,16],"range":[0,16,55,95,153,182,221,261,296,336,370,404,444,478,506,540,580,805],"nice":false,"zero":false}},"x2":{"datum":1.775},"y":{"datum":0,"axis":null,"scale":{"domain":[0,1,2,3,4],"range":[922,942,958,967,977],"nice":false,"zero":false}},"y2":{"datum":1}}},
{"data":{"values":[{}]},"mark":{"type":"rect","color":"#FF6A00"},"encoding":{"x":{"datum":0,"axis":null},"x2":{"datum":1},"y":{"datum":1,"axis":null},"y2":{"datum":2}}},
{"data":{"values":[{}]},"mark":{"type":"rule","color":"#DDE3EA","strokeWidth":1},"encoding":{"x":{"datum":0,"axis":null},"x2":{"datum":15},"y":{"datum":1,"axis":null}}},
{"data":{"values":[{}]},"mark":{"type":"rect","color":"#C9CFD6"},"encoding":{"x":{"datum":-1,"axis":null},"x2":{"datum":16},"y":{"datum":2,"axis":null},"y2":{"datum":2.15}}},
{"data":{"values":[{}]},"mark":{"type":"rect","color":"#B9BEC4"},"encoding":{"x":{"datum":15.7,"axis":null},"x2":{"datum":16},"y":{"datum":2.15,"axis":null},"y2":{"datum":3}}},
{"data":{"values":[{}]},"mark":{"type":"rule","color":"#C9D0D8","strokeWidth":1.5},"encoding":{"x":{"datum":-1,"axis":null},"x2":{"datum":16},"y":{"datum":3,"axis":null}}},
{"data":{"values":[{}]},"mark":{"type":"rule","color":"#C9D0D8","strokeWidth":1},"encoding":{"x":{"datum":0.667,"axis":null},"y":{"datum":3,"axis":null},"y2":{"datum":4}}},
{"data":{"name":"tabEdges"},"mark":{"type":"rule","color":"#DDE3EA","strokeWidth":1},"encoding":{"x":{"field":"edge","type":"quantitative","axis":null},"y":{"datum":1,"axis":null},"y2":{"datum":2}}},
{"data":{"name":"tabs"},"mark":{"type":"text","font":"Liberation Serif, Noto Sans CJK SC","fontSize":11,"color":"#222222","baseline":"middle"},"encoding":{"x":{"field":"cell","type":"quantitative","axis":null},"y":{"datum":1.5,"axis":null},"text":{"field":"label"}}},
{"data":{"values":[{"label":"指标","cell":0.5}]},"mark":{"type":"text","fontSize":12,"color":"#FFFFFF","baseline":"middle"},"encoding":{"x":{"field":"cell","type":"quantitative","axis":null},"y":{"datum":1.5,"axis":null},"text":{"field":"label"}}},
{"data":{"values":[{"label":"VIP指标","cell":2.5}]},"mark":{"type":"text","font":"Liberation Serif, Noto Sans CJK SC","fontSize":12,"color":"#FF8A1E","baseline":"middle"},"encoding":{"x":{"field":"cell","type":"quantitative","axis":null},"y":{"datum":1.5,"axis":null},"text":{"field":"label"}}},
{"data":{"values":[{"label":"日线 ▲","cell":0.87}]},"mark":{"type":"text","fontSize":13,"fontWeight":"bold","color":"#FF8A1E","baseline":"middle"},"encoding":{"x":{"field":"cell","type":"quantitative","axis":null},"y":{"datum":0.5,"axis":null},"text":{"field":"label"}}},
{"data":{"values":[{"label":"资讯","cell":0.154}]},"mark":{"type":"text","fontSize":12,"color":"#333333","baseline":"middle"},"encoding":{"x":{"field":"cell","type":"quantitative","axis":null},"y":{"datum":3.95,"axis":null},"text":{"field":"label"}}},
{"data":{"values":[{"label":"1QH.CN","cell":15.69}]},"mark":{"type":"text","fontSize":28,"fontWeight":"bold","color":"#CFCFCF","baseline":"middle"},"encoding":{"x":{"field":"cell","type":"quantitative","axis":null},"y":{"datum":0.8,"axis":null},"text":{"field":"label"}}}
]}
],
"resolve":{"scale":{"x":"independent","y":"independent","color":"independent"},"axis":{"x":"independent","y":"independent"}}
}
